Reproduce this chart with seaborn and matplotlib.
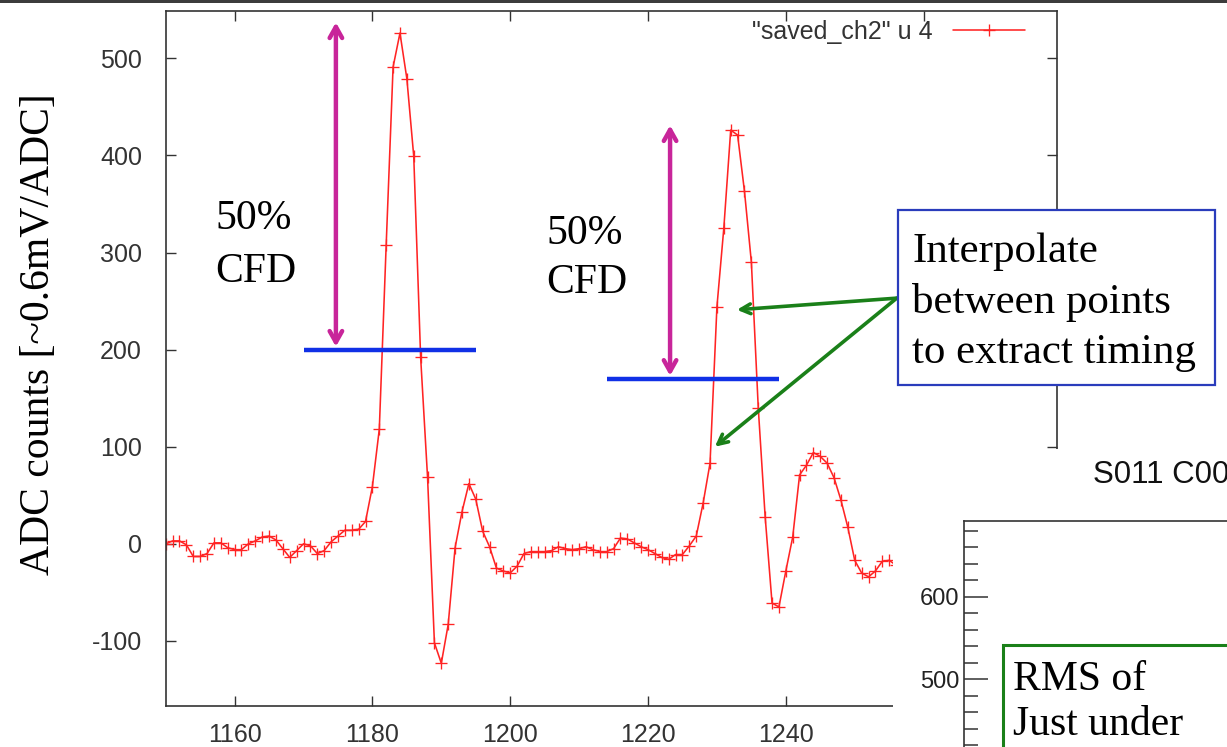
import matplotlib
matplotlib.use("Agg")
import matplotlib.pyplot as plt
from matplotlib.patches import Rectangle
from matplotlib.ticker import FixedLocator, MultipleLocator
import pandas as pd
import seaborn as sns

# one ADC reading per sample, samples 1150..1256
sample = list(range(1150, 1257))
adc = [
    0, 3, 3, -1, -13, -13, -10, 1, 1, -4,
    -6, -6, 0, 3, 7, 8, 4, -5, -14, -7,
    0, -2, -10, -7, 2, 8, 14, 14, 15, 23,
    59, 118, 308, 491, 526, 479, 399, 192, 69, -102,
    -123, -83, -4, 33, 62, 46, 13, -3, -25, -28,
    -30, -23, -10, -8, -8, -8, -7, -3, -5, -6,
    -5, -3, -6, -8, -8, -5, 6, 5, 1, -3,
    -6, -10, -14, -16, -11, -11, -2, 8, 42, 83,
    244, 325, 426, 421, 363, 290, 140, 28, -61, -65,
    -28, 7, 71, 81, 94, 90, 83, 68, 45, 17,
    -17, -30, -34, -28, -18, -17, -22,
]
series_label = '"saved_ch2" u 4'
ylabel = "ADC counts [~0.6mV/ADC]"
xticks = [1160, 1180, 1200, 1220, 1240, 1260]
xtick_labels = ["1160", "1180", "1200", "1220", "1240", ""]  # 1260 sits under the next panel
yticks = [-100, 0, 100, 200, 300, 400, 500]

# constant fraction discriminator markers (data units)
cfd_level = [200, 170]
cfd_start = [1170, 1214]
cfd_end = [1195, 1239]
cfd_arrow_x = [1174.7, 1223.2]
cfd_arrow_top = [537, 431]
cfd_text_x = [1157.2, 1205.3]
cfd_text_y = [(324, 270), (309, 258)]
cfd_words = ["50%", "CFD"]

# pointers from the note box to the rising edge
pointer_tail = (1256.1, 253)
pointer_heads = [(1232.9, 241), (1229.7, 100)]
box_lines = ["Interpolate", "between points", "to extract timing"]

# the next slide panel that overlaps the lower right corner
panel2_title = "S011 C00"
panel2_ticks = [500, 600]
panel2_lines = ["RMS of", "Just under"]

W, H, DPI = 1227, 747, 100
RED = "#ff2424"
MAGENTA = "#c8259a"
BLUE = "#1030e6"
BOXBLUE = "#2a3cbc"
GREEN = "#1a8019"
DARK = "#333333"
SERIF = ["Liberation Serif", "DejaVu Serif"]


def fx(px):
    return px / W


def fy(py):
    return 1 - py / H


sns.set_style("ticks")
plt.rcParams["font.family"] = ["Liberation Sans", "DejaVu Sans"]
plt.rcParams["axes.unicode_minus"] = False

fig = plt.figure(figsize=(W / DPI, H / DPI), dpi=DPI)
fig.patch.set_facecolor("white")

ax = fig.add_axes([fx(165.7), fy(706), fx(1057.3) - fx(165.7), fy(10.7) - fy(706)])
df = pd.DataFrame({"sample": sample, "adc": adc})
sns.lineplot(
    data=df, x="sample", y="adc", ax=ax, color=RED, linewidth=1.15,
    marker="+", markersize=8.5, markeredgewidth=0.95, markeredgecolor=RED,
    label=series_label,
)
ax.set_xlim(1150, 1279.4)
ax.set_ylim(-167, 549)
ax.set_xticks(xticks)
ax.set_xticklabels(xtick_labels)
ax.set_yticks(yticks)
ax.set_xlabel("")
ax.set_ylabel(ylabel, family=SERIF, fontsize=30, color="black")
ax.yaxis.set_label_coords(-0.121, 0.535)
ax.tick_params(direction="in", length=7, width=1, color=DARK, left=True, bottom=True,
               top=True, right=True, labelsize=18, labelcolor=DARK)
ax.tick_params(axis="y", pad=17)
ax.tick_params(axis="x", pad=12)
for sp in ax.spines.values():
    sp.set_color(DARK)
    sp.set_linewidth(1.2)

ax.legend(loc="upper right", bbox_to_anchor=(0.9638, 0.9866), markerfirst=False,
          frameon=False, handlelength=2.9, handletextpad=0.8, borderpad=0,
          borderaxespad=0, fontsize=18, labelcolor=DARK)

for lvl, x0, x1, ax_x, top, tx, (ty1, ty2) in zip(
        cfd_level, cfd_start, cfd_end, cfd_arrow_x, cfd_arrow_top, cfd_text_x, cfd_text_y):
    ax.plot([x0, x1], [lvl, lvl], color=BLUE, lw=3.2, solid_capstyle="butt", zorder=4)
    ax.annotate("", xy=(ax_x, top), xytext=(ax_x, lvl + 3),
                arrowprops=dict(arrowstyle="<->,head_length=0.8,head_width=0.45",
                                color=MAGENTA, lw=3.2, shrinkA=0, shrinkB=0), zorder=5)
    ax.text(tx, ty1, cfd_words[0], family=SERIF, fontsize=30, va="baseline", color="black")
    ax.text(tx, ty2, cfd_words[1], family=SERIF, fontsize=30, va="baseline", color="black")

for head in pointer_heads:
    ax.annotate("", xy=head, xytext=pointer_tail,
                arrowprops=dict(arrowstyle="->,head_length=0.7,head_width=0.35",
                                color=GREEN, lw=2.6, shrinkA=0, shrinkB=0), zorder=5)

# note box
fig.add_artist(Rectangle((fx(898), fy(385)), fx(1215) - fx(898), fy(210) - fy(385),
                         transform=fig.transFigure, fc="white", ec=BOXBLUE, lw=1.6, zorder=2))
for line, base in zip(box_lines, [262, 313, 363]):
    fig.text(fx(912), fy(base), line, family=SERIF, fontsize=31, va="baseline",
             color="black", zorder=3)

# white area of the overlapping panel
fig.add_artist(Rectangle((fx(893), fy(747)), 1 - fx(893), fy(449) - fy(747),
                         transform=fig.transFigure, fc="white", ec="none", zorder=1))
ax2 = fig.add_axes([fx(964.3), fy(900), fx(1500) - fx(964.3), fy(520.7) - fy(900)])
ax2.set_zorder(1.5)
ax2.set_facecolor("white")
ax2.set_ylim(232.8, 692)
ax2.set_xticks([])
ax2.yaxis.set_major_locator(FixedLocator(panel2_ticks))
ax2.yaxis.set_minor_locator(MultipleLocator(20))
ax2.tick_params(axis="y", which="major", direction="in", length=17, width=1.1, color=DARK,
                left=True, labelsize=17, labelcolor="#222222", pad=3.6)
ax2.tick_params(axis="y", which="minor", direction="in", length=10, width=1.1, color=DARK,
                left=True)
for side in ["right", "bottom"]:
    ax2.spines[side].set_visible(False)
for side in ["left", "top"]:
    ax2.spines[side].set_color(DARK)
    ax2.spines[side].set_linewidth(1.2)

fig.text(fx(1093), fy(483), panel2_title, fontsize=22.5, va="baseline", color="#111111", zorder=4)
fig.add_artist(Rectangle((fx(1002.7), fy(800)), fx(1300) - fx(1002.7), fy(645) - fy(800),
                         transform=fig.transFigure, fc="white", ec=GREEN, lw=2.2, zorder=3))
for line, base in zip(panel2_lines, [690, 735]):
    fig.text(fx(1013), fy(base), line, family=SERIF, fontsize=30, va="baseline",
             color="black", zorder=4)

# dark strip along the top edge
fig.add_artist(Rectangle((0, fy(3.3)), 1, 3.3 / H, transform=fig.transFigure,
                         fc="#3c3c3c", ec="none", zorder=6))

fig.savefig("out.png", dpi=DPI)
